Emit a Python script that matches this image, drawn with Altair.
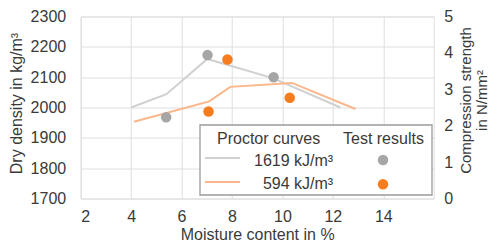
import altair as alt
import pandas as pd

# ---- data ----
series = ["1619 kJ/m³", "594 kJ/m³"]

moisture_1619 = [4.0, 5.4, 7.02, 9.62, 12.3]
density_1619 = [2000, 2044, 2160, 2097, 2000]
moisture_594 = [4.11, 7.1, 7.93, 10.38, 12.9]
density_594 = [1953, 2020, 2068, 2081, 1995]

test_moisture_1619 = [5.39, 7.03, 9.65]
strength_1619 = [2.23, 3.94, 3.33]
test_moisture_594 = [7.07, 7.82, 10.29]
strength_594 = [2.39, 3.82, 2.77]

x_ticks = [2, 4, 6, 8, 10, 12, 14]
density_ticks = [1700, 1800, 1900, 2000, 2100, 2200, 2300]
strength_ticks = [0, 1, 2, 3, 4, 5]

legend_titles = ["Proctor curves", "Test results"]

# ---- tables ----
curves = pd.DataFrame({
    "moisture": moisture_1619 + moisture_594,
    "density": density_1619 + density_594,
    "series": [series[0]] * len(moisture_1619) + [series[1]] * len(moisture_594),
    "idx": list(range(len(moisture_1619))) + list(range(len(moisture_594))),
})
tests = pd.DataFrame({
    "moisture": test_moisture_1619 + test_moisture_594,
    "strength": strength_1619 + strength_594,
    "series": [series[0]] * len(test_moisture_1619) + [series[1]] * len(test_moisture_594),
})

TEXT = "#3a3a3a"
FONT = "Liberation Sans"
line_colors = ["#d0d0d0", "#fbb68a"]
dot_colors = ["#a6a6a6", "#f77c1e"]

W, H = 353, 182

xenc = alt.X("moisture:Q", scale=alt.Scale(domain=[2, 16], nice=False, zero=False),
             axis=alt.Axis(values=x_ticks, format="d", title="Moisture content in %", grid=True,
                           labelPadding=10, titleX=176.5, titleY=40.5, titleBaseline="alphabetic",
                           titleAlign="center"))

lines = alt.Chart(curves).mark_line(strokeWidth=2).encode(
    x=xenc,
    y=alt.Y("density:Q", scale=alt.Scale(domain=[1700, 2300], nice=False, zero=False),
            axis=alt.Axis(values=density_ticks, format="d", title="Dry density in kg/m³", grid=True,
                          labelPadding=15, titleAngle=270, titleBaseline="bottom",
                          titleAlign="center", titleX=-56.5, titleY=86.5)),
    color=alt.Color("series:N", scale=alt.Scale(domain=series, range=line_colors), legend=None),
    order="idx:Q",
)

points = alt.Chart(tests).mark_circle(size=110, opacity=1).encode(
    x=alt.X("moisture:Q"),
    y=alt.Y("strength:Q", scale=alt.Scale(domain=[0, 5], nice=False),
            axis=alt.Axis(orient="right", values=strength_ticks, format="d", grid=False,
                          title=["Compression strength", "in N/mm²"],
                          titleFontSize=15,
                          titleAngle=270, titleBaseline="top", titleLineHeight=16,
                          titleAlign="center", titleX=24.3, titleY=83.5,
                          labelPadding=10)),
    color=alt.Color("series:N", scale=alt.Scale(domain=series, range=dot_colors), legend=None),
)

one = pd.DataFrame({"k": [0]})
base = alt.Chart(one)

frame = base.mark_rect(fill="white", stroke="#9a9a9a", strokeWidth=1.3).encode(
    x=alt.value(119.3), x2=alt.value(351.3), y=alt.value(108.5), y2=alt.value(178.5))

def txt(s, x, y, align="left"):
    return base.mark_text(font=FONT, fontSize=16, color=TEXT, align=align, baseline="middle").encode(
        x=alt.value(x), y=alt.value(y), text=alt.value(s))

def sym_line(color, y):
    return base.mark_rule(color=color, strokeWidth=2).encode(
        x=alt.value(124.3), x2=alt.value(159.3), y=alt.value(y))

def sym_dot(color, y):
    return base.mark_circle(color=color, size=110, opacity=1).encode(
        x=alt.value(302.3), y=alt.value(y))

legend_layers = [
    frame,
    txt(legend_titles[0], 136.3, 122.5),
    txt(legend_titles[1], 262.3, 122.5),
    sym_line(line_colors[0], 141.5),
    sym_line(line_colors[1], 165.5),
    txt(series[0], 252.5, 144.3, align="right"),
    txt(series[1], 252.5, 167.8, align="right"),
    sym_dot(dot_colors[0], 143.5),
    sym_dot(dot_colors[1], 167.8),
]

chart = alt.layer(lines, points, *legend_layers).resolve_scale(
    y="independent", color="independent"
).properties(
    width=W, height=H,
    autosize=alt.AutoSizeParams(type="none"),
    padding={"left": 72.7, "top": 8.5, "right": 56.3, "bottom": 43.5},
).configure_axis(
    labelFont=FONT, labelFontSize=16, labelColor=TEXT,
    titleFont=FONT, titleFontSize=16, titleFontWeight="normal", titleColor=TEXT,
    domain=False, ticks=False, gridColor="#dedede", gridWidth=1,
).configure_view(stroke="#dedede")

chart.save("out.html", embed_options={"renderer": "svg", "actions": False})
